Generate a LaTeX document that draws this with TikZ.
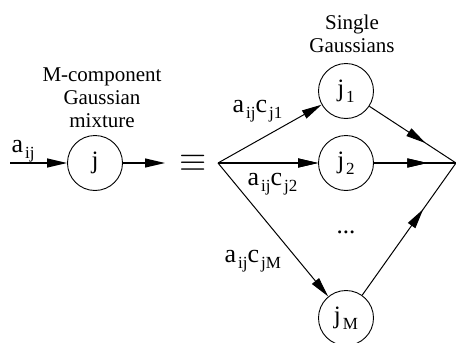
\documentclass[tikz,border=0pt]{standalone}
\usepackage{fontspec}
\setmainfont{Liberation Serif}
\usetikzlibrary{arrows.meta, decorations.markings}

\newcommand{\lsub}[1]{\kern2pt\raisebox{-6pt}{\fontsize{17}{17}\selectfont #1}}

\begin{document}
\begin{tikzpicture}[x=1pt, y=-1pt, line width=1.2pt,
    bigtip/.tip={Triangle[length=20pt, width=9pt]},
    gauss/.style={circle, draw, line width=0.9pt, minimum size=55pt, inner sep=0pt,
                  font=\fontsize{25}{27}\selectfont},
    title/.style={align=center, font=\fontsize{21}{23}\selectfont},
    wlabel/.style={anchor=base west, inner sep=0pt, font=\fontsize{26}{28}\selectfont},
    midtip/.style={postaction={decorate},
                   decoration={markings, mark=at position 0.65 with {\arrow{bigtip}}}}]

    \useasboundingbox (0,0) rectangle (456,343);

    % --- 1. Gemischte Komponente (links) ---
    \node[title] (mixtitle) at (102,98) {M-component\\Gaussian\\mixture};
    \node[gauss] (mix) at (95,163) {j};
    \coordinate (in) at (10,163);
    \coordinate (out) at (165,163);
    \draw[-bigtip] (in) -- (mix);
    \draw[-bigtip] (mix) -- (out);
    \node[wlabel] (ain) at (11,152) {a\lsub{ij}};

    % --- 2. Aequivalenzzeichen ---
    \node (eq) at (193,163) {\scalebox{3.5}{$\equiv$}};

    % --- 3. Einzelne Gaussverteilungen (rechts) ---
    \node[title] (singletitle) at (352,34) {Single\\Gaussians};
    \coordinate (fan) at (218,163);
    \coordinate (sum) at (456,163);
    \node[gauss] (j1) at (346,91) {j\lsub{1}};
    \node[gauss] (j2) at (346,163) {j\lsub{2}};
    \node[gauss] (jM) at (346,318) {j\lsub{M}};
    \node[font=\fontsize{25}{27}\selectfont] (dots) at (346,232) {...};

    \foreach \g in {j1, j2, jM} {
        \draw[-bigtip, line width=1pt] (fan) -- (\g);
        \draw[midtip, line width=1pt] (\g) -- (sum);
    }
    \draw[-bigtip] (fan) -- (j2); % waagrecht etwas kraeftiger
    \draw[midtip] (j2) -- (sum);

    % --- 4. Gewichte ---
    \node[wlabel] (w1) at (232,112) {a\lsub{ij}c\lsub{j1}};
    \node[wlabel] (w2) at (247,185) {a\lsub{ij}c\lsub{j2}};
    \node[wlabel] (wM) at (224,262) {a\lsub{ij}c\lsub{jM}};

\end{tikzpicture}
\end{document}
